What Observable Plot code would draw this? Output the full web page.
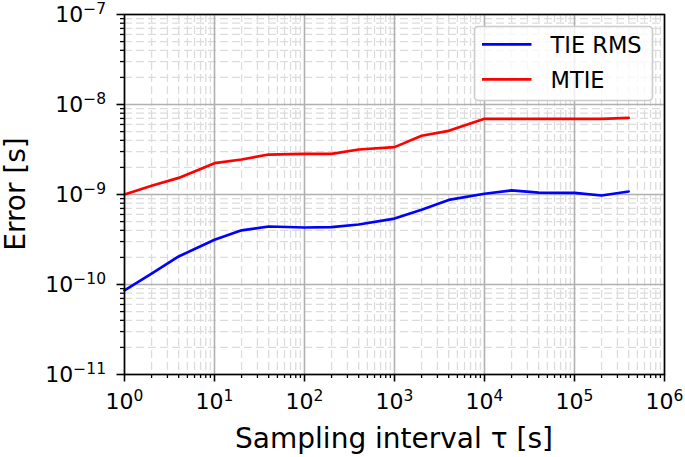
<!DOCTYPE html>
<html>
<head>
<meta charset="utf-8">
<script src="https://cdn.jsdelivr.net/npm/d3@7"></script>
<script src="https://cdn.jsdelivr.net/npm/@observablehq/plot@0.6"></script>
<style>
  html, body { margin: 0; padding: 0; background: #fff; }
  #chart svg { display: block; }
</style>
</head>
<body>
<div id="chart"></div>
<script>
// ---- data ----
const tau = [1, 2, 4, 10, 20, 40, 100, 200, 400, 1000, 2000, 4000, 10000, 20000, 40000, 100000, 200000, 400000];
const tieRms = [8.6e-11, 1.32e-10, 2.05e-10, 3.14e-10, 4.0e-10, 4.41e-10, 4.3e-10, 4.35e-10, 4.64e-10, 5.4e-10, 6.76e-10, 8.7e-10, 1.02e-9, 1.11e-9, 1.05e-9, 1.04e-9, 9.75e-10, 1.08e-9];
const mtie = [1.0e-9, 1.25e-9, 1.53e-9, 2.23e-9, 2.45e-9, 2.78e-9, 2.83e-9, 2.83e-9, 3.16e-9, 3.36e-9, 4.5e-9, 5.1e-9, 6.93e-9, 6.93e-9, 6.93e-9, 6.93e-9, 6.93e-9, 7.1e-9];
const seriesNames = ["TIE RMS", "MTIE"];
const seriesColors = ["#0000ff", "#ff0000"];
const xMajorExp = [0, 1, 2, 3, 4, 5, 6];
const yMajorExp = [-11, -10, -9, -8, -7];
const xLabel = "Sampling interval \u03c4 [s]";
const yLabel = "Error [s]";

// ---- derived tick arrays ----
const xMajor = xMajorExp.map(e => Math.pow(10, e));
const yMajor = yMajorExp.map(e => Math.pow(10, e));
const minorOf = exps => exps.slice(0, -1).flatMap(e => d3.range(2, 10).map(m => m * Math.pow(10, e)));
const xMinor = minorOf(xMajorExp);
const yMinor = minorOf(yMajorExp);

const rows = [];
tau.forEach((t, i) => rows.push({tau: t, value: tieRms[i], series: seriesNames[0]}));
tau.forEach((t, i) => rows.push({tau: t, value: mtie[i], series: seriesNames[1]}));

const fmt = d => "10^" + Math.round(Math.log10(d)).toString().replace("-", "\u2212");

const W = 685, H = 457;
const plot = Plot.plot({
  width: W,
  height: H,
  marginLeft: 124,
  marginRight: 21,
  marginTop: 14,
  marginBottom: 83,
  style: {fontFamily: "DejaVu Sans", background: "#fff", color: "#000"},
  x: {type: "log", domain: [1, 1e6], label: null},
  y: {type: "log", domain: [1e-11, 1e-7], label: null},
  color: {domain: seriesNames, range: seriesColors},
  marks: [
    Plot.ruleX(xMinor, {stroke: "#dcdcdc", strokeWidth: 1.3, strokeDasharray: "8,4"}),
    Plot.ruleY(yMinor, {stroke: "#dcdcdc", strokeWidth: 1.3, strokeDasharray: "8,4"}),
    Plot.ruleX(xMajor, {stroke: "#b0b0b0", strokeWidth: 1.6}),
    Plot.ruleY(yMajor, {stroke: "#b0b0b0", strokeWidth: 1.6}),
    Plot.line(rows, {x: "tau", y: "value", stroke: "series", z: "series", strokeWidth: 2.7, curve: "linear"}),
    Plot.axisX({ticks: xMinor, tickSize: 4, tickFormat: () => "", strokeWidth: 1.3, label: null}),
    Plot.axisY({ticks: yMinor, tickSize: 4, tickFormat: () => "", strokeWidth: 1.3, label: null}),
    Plot.axisX({ticks: xMajor, tickSize: 7.5, tickPadding: 11, tickFormat: fmt, fontSize: 22, strokeWidth: 1.6, label: null}),
    Plot.axisY({ticks: yMajor, tickSize: 7.5, tickPadding: 11, tickFormat: fmt, fontSize: 22, strokeWidth: 1.6, label: null}),
    Plot.frame({stroke: "#000", strokeWidth: 1.6})
  ]
});

// turn "10^e" tick labels into base + superscript tspans
d3.select(plot).selectAll('g[aria-label$="tick label"] text').each(function() {
  const t = this.textContent;
  if (!t || t.indexOf("^") < 0) return;
  const [base, exp] = t.split("^");
  const sel = d3.select(this);
  sel.text(null);
  sel.append("tspan").text(base);
  sel.append("tspan").attr("font-size", "15.5px").attr("dy", "-7.5").text(exp);
});

const svg = d3.select(plot);
// axis labels
svg.append("text")
  .attr("x", 394).attr("y", 448)
  .attr("text-anchor", "middle")
  .attr("font-family", "DejaVu Sans").attr("font-size", "28px").attr("fill", "#000")
  .text(xLabel);
svg.append("text")
  .attr("transform", "translate(25,194) rotate(-90)")
  .attr("text-anchor", "middle")
  .attr("font-family", "DejaVu Sans").attr("font-size", "28px").attr("fill", "#000")
  .text(yLabel);

// legend
const lg = svg.append("g").attr("aria-label", "legend");
lg.append("rect")
  .attr("x", 474.5).attr("y", 26.5).attr("width", 178).attr("height", 74)
  .attr("rx", 4).attr("fill", "#fff").attr("fill-opacity", 0.8)
  .attr("stroke", "#cccccc").attr("stroke-width", 1.6);
const legendY = [44.3, 79.3];
seriesNames.forEach((name, i) => {
  lg.append("line")
    .attr("x1", 482).attr("x2", 531.5)
    .attr("y1", legendY[i]).attr("y2", legendY[i])
    .attr("stroke", seriesColors[i]).attr("stroke-width", 2.7);
  lg.append("text")
    .attr("x", 550.5).attr("y", legendY[i] + 8.5)
    .attr("text-anchor", "start")
    .attr("font-family", "DejaVu Sans").attr("font-size", "22.5px").attr("fill", "#000")
    .text(name);
});

document.getElementById("chart").appendChild(plot);
</script>
</body>
</html>
